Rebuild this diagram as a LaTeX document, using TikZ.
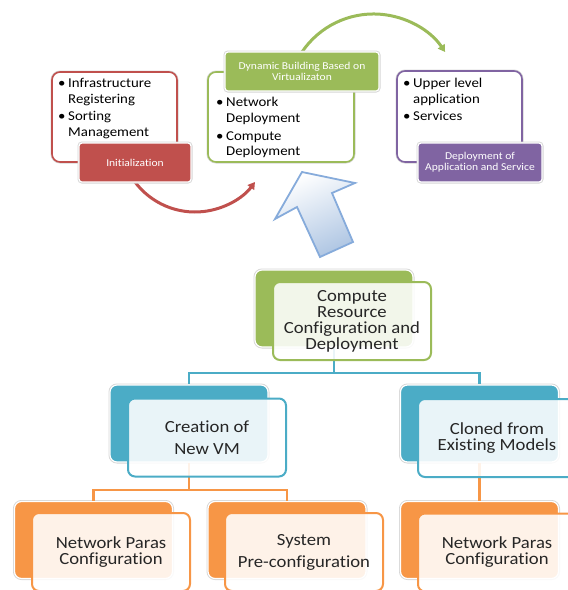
\documentclass[tikz,border=0pt]{standalone}
\usepackage{fontspec}
\setmainfont{Carlito}[FakeStretch=1.1, Ligatures={NoCommon}]
\usetikzlibrary{arrows.meta}

\definecolor{cRed}{HTML}{C0504D}
\definecolor{cGreen}{HTML}{9BBB59}
\definecolor{cPurple}{HTML}{8064A2}
\definecolor{cBlue}{HTML}{4BACC6}
\definecolor{cOrange}{HTML}{F79646}
\definecolor{cArrowLine}{HTML}{86ABDB}
\definecolor{cArrowFill}{HTML}{AFC6E3}
\definecolor{cArrowShadow}{HTML}{8497B3}

% fixed-width bullet for the item lists
\newcommand\bul{\makebox[10pt][l]{\textbullet}}

\begin{document}
\begin{tikzpicture}[x=1pt,y=-1pt,
  halo/.style={preaction={draw=black!16, line width=3pt}},
  outlinebox/.style={halo, draw=#1, fill=white, line width=1.6pt,
    rounded corners=8pt, inner sep=0pt},
  labelbox/.style={halo, fill=#1, draw=white, line width=1.2pt,
    rounded corners=3pt, inner sep=0pt, text=white, align=center,
    font=\fontsize{10.5}{11}\selectfont},
  backbox/.style={halo, fill=#1, draw=white, line width=1.2pt,
    rounded corners=7pt, inner sep=0pt,
    minimum width=158pt, minimum height=77pt},
  frontbox/.style={draw=#1, line width=2pt, fill=white, fill opacity=0.88,
    text opacity=1, rounded corners=7pt, inner sep=0pt,
    minimum width=158pt, minimum height=78pt, align=center,
    text=black!85, font=\fontsize{17}{16}\selectfont},
  bullets/.style={inner sep=0pt, anchor=base west, text=black,
    font=\fontsize{13.5}{15.5}\selectfont},
  bus/.style={draw=#1, line width=2.8pt},
  cyclearc/.style={draw=#1, line width=3pt,
    -{Triangle[length=7pt,width=8pt]}},
]
\useasboundingbox (0,0) rectangle (568,590);
\clip (0,0) rectangle (568,590);

% ---------- cycle arcs ----------
\coordinate (redStart) at (135,182);
\draw[cyclearc=cRed] (redStart) arc[start angle=143.13, end angle=36.87, radius=75];
\coordinate (greenStart) at (302,52);
\draw[cyclearc=cGreen] (greenStart) arc[start angle=-146, end angle=-34, radius=86.3];

% ---------- stage 1: initialization ----------
\node[outlinebox=cRed, minimum width=125pt, minimum height=90pt] (initbox) at (114.5,117) {};
\node[bullets] (inittxt) at (58,87.5)
  {\begin{tabular}[t]{@{}l@{}l@{}}\bul & Infrastructure\\ & Registering\\[2pt]
   \bul & Sorting\\ & Management\end{tabular}};
\node[labelbox=cRed, minimum width=112pt, minimum height=39pt] (initlabel) at (135,162.5) {Initialization};

% ---------- stage 2: dynamic building ----------
\node[outlinebox=cGreen, minimum width=146pt, minimum height=90pt] (dynbox) at (281,117) {};
\node[bullets] (dyntxt) at (216,106.5)
  {\begin{tabular}[t]{@{}l@{}l@{}}\bul & Network\\ & Deployment\\[2.5pt]
   \bul & Compute\\ & Deployment\end{tabular}};
\node[labelbox=cGreen, minimum width=154pt, minimum height=39pt] (dynlabel) at (302,71.5)
  {Dynamic Building Based on\\Virtualizaton};

% ---------- stage 3: application and service ----------
\node[outlinebox=cPurple, minimum width=125pt, minimum height=91pt] (appbox) at (459.5,116.5) {};
\node[bullets] (apptxt) at (403,87.5)
  {\begin{tabular}[t]{@{}l@{}l@{}}\bul & Upper level\\ & application\\[2pt]
   \bul & Services\end{tabular}};
\node[labelbox=cPurple, minimum width=124pt, minimum height=39pt] (applabel) at (480,162.5)
  {Deployment of\\Application and Service};

% ---------- block arrow ----------
\coordinate (aT)  at (302,172);
\coordinate (aR)  at (355,183);
\coordinate (aRJ) at (332,193);
\coordinate (aBR) at (353,242);
\coordinate (aBL) at (320,257);
\coordinate (aLJ) at (297,207);
\coordinate (aL)  at (275,219);
\fill[cArrowShadow, shift={(2.5,3.5)}]
  (aT) -- (aR) -- (aRJ) -- (aBR) -- (aBL) -- (aLJ) -- (aL) -- cycle;
\path[draw=cArrowLine, line width=1.8pt, line join=miter,
      top color=white, bottom color=cArrowFill, shading angle=24]
  (aT) -- (aR) -- (aRJ) -- (aBR) -- (aBL) -- (aLJ) -- (aL) -- cycle;

% ---------- hierarchy: back plates ----------
\node[backbox=cGreen]  (topback) at (334,308.5) {};
\node[backbox=cBlue]   (crback)  at (189,423.5) {};
\node[backbox=cBlue]   (clback)  at (479.5,423.5) {};
\node[backbox=cOrange] (np1back) at (93.5,540) {};
\node[backbox=cOrange] (sysback) at (287,540) {};
\node[backbox=cOrange] (np2back) at (479.5,540) {};

% ---------- hierarchy: connectors ----------
\coordinate (busTop) at (334,373);
\draw[bus=cBlue] (topback.south) -- (busTop) -| (crback.north);
\draw[bus=cBlue] (busTop) -| (clback.north);
\coordinate (busCr) at (189,490);
\draw[bus=cOrange] (crback.south) -- (busCr) -| (np1back.north);
\draw[bus=cOrange] (busCr) -| (sysback.north);
\draw[bus=cOrange] (clback.south) -- (np2back.north);

% ---------- hierarchy: front cards ----------
\node[frontbox=cGreen]  (topfront) at (352,321)
  {Compute\\Resource\\Configuration and\\Deployment};
\node[frontbox=cBlue]   (crfront)  at (207,437.5) {Creation of\\[6pt]New VM};
\node[frontbox=cBlue]   (clfront)  at (497,438) {Cloned from\\Existing Models};
\node[frontbox=cOrange] (np1front) at (111,552) {Network Paras\\Configuration};
\node[frontbox=cOrange] (sysfront) at (304,552) {System\\[6pt]Pre-configuration};
\node[frontbox=cOrange] (np2front) at (497,552.5) {Network Paras\\Configuration};
\end{tikzpicture}
\end{document}
